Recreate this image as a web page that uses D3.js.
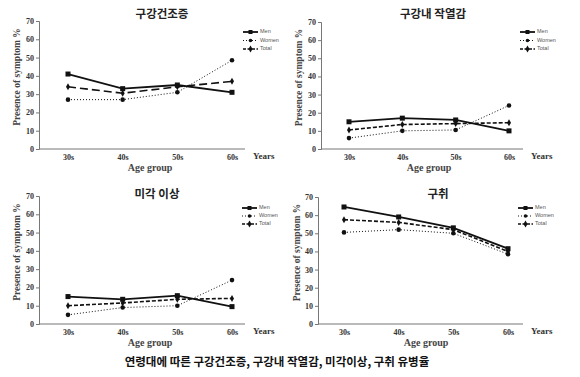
<!DOCTYPE html>
<html>
<head>
<meta charset="utf-8">
<script src="https://cdn.jsdelivr.net/npm/d3@7"></script>
<style>
  body { margin: 0; background: #fff; }
  svg { display: block; }
</style>
</head>
<body>
<svg width="580" height="377"></svg>
<script>
// Data
const ageGroups = ["30s", "40s", "50s", "60s"];
const yTicks = [0, 10, 20, 30, 40, 50, 60, 70];
const seriesNames = ["Men", "Women", "Total"];
const panelTitles = ["구강건조증", "구강내 작열감", "미각 이상", "구취"];

const dryMen = [41, 33, 35, 31];
const dryWomen = [27, 27, 31, 48.5];
const dryTotal = [34, 30.5, 34, 37];

const burnMen = [15, 17, 16, 10];
const burnWomen = [6, 10, 10.5, 24];
const burnTotal = [10.5, 13.5, 14, 14.5];

const tasteMen = [15, 13.5, 15.5, 9.5];
const tasteWomen = [5, 9, 10, 24];
const tasteTotal = [10, 11.5, 13.5, 14];

const breathMen = [64.5, 59, 53, 41.5];
const breathWomen = [50.5, 52, 50, 38.5];
const breathTotal = [57.5, 56, 52, 40];

const caption = "연령대에 따른 구강건조증, 구강내 작열감, 미각이상, 구취 유병율";

// Layout of each panel (pixels)
const panels = [
  { title: panelTitles[0], data: [dryMen, dryWomen, dryTotal],
    x0: 39, x1: 245, xa: 68, xb: 232, yTop: 21, yBot: 149, titleX: 162, titleY: 15,
    yLabX: 18, legX: 243, legY: [32, 40.5, 49], totalDash: "8,4" },
  { title: panelTitles[1], data: [burnMen, burnWomen, burnTotal],
    x0: 321, x1: 523, xa: 349, xb: 509, yTop: 22, yBot: 149, titleX: 433, titleY: 15,
    yLabX: 300, legX: 520, legY: [32, 40.5, 49], totalDash: "4,2" },
  { title: panelTitles[2], data: [tasteMen, tasteWomen, tasteTotal],
    x0: 39, x1: 245, xa: 68, xb: 232, yTop: 196, yBot: 324, titleX: 157, titleY: 195,
    yLabX: 18, legX: 242, legY: [208, 216, 224], totalDash: "4,2" },
  { title: panelTitles[3], data: [breathMen, breathWomen, breathTotal],
    x0: 318, x1: 523, xa: 344, xb: 508, yTop: 197, yBot: 324, titleX: 438, titleY: 195,
    yLabX: 298, legX: 518, legY: [208, 216, 224], totalDash: "4,2" }
];

const svg = d3.select("svg");
const serif = "'Liberation Serif', 'Times New Roman', serif";
const kor = "'Noto Sans CJK KR', sans-serif";

function lineStyle(sel, i, p) {
  if (i === 0) sel.attr("stroke-width", 1.8);
  else if (i === 1) sel.attr("stroke-width", 1).attr("stroke-dasharray", "1,2");
  else sel.attr("stroke-width", 1.6).attr("stroke-dasharray", p.totalDash);
}

function drawMarker(g, i, x, y) {
  if (i === 0) {
    g.append("rect").attr("x", x - 2.5).attr("y", y - 2.5)
      .attr("width", 5).attr("height", 5).attr("fill", "#111");
  } else if (i === 1) {
    g.append("circle").attr("cx", x).attr("cy", y).attr("r", 2.3).attr("fill", "#111");
  } else {
    g.append("path").attr("d", d3.symbol(d3.symbolDiamond, 14)())
      .attr("transform", `translate(${x},${y})`).attr("fill", "#111");
  }
}

panels.forEach(p => {
  const g = svg.append("g");

  const xScale = d3.scalePoint().domain(ageGroups).range([p.xa, p.xb]);
  const yScale = d3.scaleLinear().domain([0, 70]).range([p.yBot, p.yTop]);

  // Y axis
  const yAxis = d3.axisLeft(yScale).tickValues(yTicks).tickSize(3).tickPadding(2);
  const ya = g.append("g").attr("transform", `translate(${p.x0},0)`).call(yAxis);
  ya.select(".domain").attr("stroke", "#777");
  ya.selectAll(".tick line").attr("stroke", "#777");
  ya.selectAll("text").attr("font-family", serif).attr("font-weight", "bold")
    .attr("font-size", 8).attr("fill", "#333");

  // X axis
  g.append("line").attr("x1", p.x0).attr("x2", p.x1)
    .attr("y1", p.yBot).attr("y2", p.yBot).attr("stroke", "#777");
  const xAxis = d3.axisBottom(xScale).tickSize(0).tickPadding(5);
  const xa = g.append("g").attr("transform", `translate(0,${p.yBot})`).call(xAxis);
  xa.select(".domain").remove();
  xa.selectAll("text").attr("font-family", serif).attr("font-weight", "bold")
    .attr("font-size", 8).attr("fill", "#333");

  g.append("text").attr("x", p.x1 + 8).attr("y", p.yBot + 10)
    .attr("font-family", serif).attr("font-weight", "bold").attr("font-size", 9)
    .attr("fill", "#333").text("Years");

  g.append("text").attr("x", (p.xa + p.xb) / 2).attr("y", p.yBot + 22)
    .attr("text-anchor", "middle").attr("font-family", serif).attr("font-weight", "bold")
    .attr("font-size", 10).attr("fill", "#444").text("Age group");

  g.append("text")
    .attr("transform", `translate(${p.yLabX},${(p.yTop + p.yBot) / 2 - 8}) rotate(-90)`)
    .attr("text-anchor", "middle").attr("dominant-baseline", "middle")
    .attr("font-family", serif).attr("font-weight", "bold").attr("font-size", 9.5)
    .attr("fill", "#444").text("Presence of symptom %");

  // Title
  g.append("text").attr("x", p.titleX).attr("y", p.titleY)
    .attr("text-anchor", "middle").attr("dominant-baseline", "middle")
    .attr("font-family", kor).attr("font-weight", "bold").attr("font-size", 11.5)
    .attr("fill", "#222").text(p.title);

  // Series lines and markers
  const line = d3.line().x((d, j) => xScale(ageGroups[j])).y(d => yScale(d));
  p.data.forEach((vals, i) => {
    g.append("path").datum(vals).attr("d", line).attr("fill", "none")
      .attr("stroke", "#111").call(lineStyle, i, p);
    vals.forEach((v, j) => drawMarker(g, i, xScale(ageGroups[j]), yScale(v)));
  });

  // Legend
  seriesNames.forEach((name, i) => {
    const ly = p.legY[i];
    g.append("line").attr("x1", p.legX).attr("x2", p.legX + 15)
      .attr("y1", ly).attr("y2", ly).attr("stroke", "#111")
      .call(lineStyle, i, { totalDash: "3,1.5" });
    const lg = g.append("g");
    drawMarker(lg, i, p.legX + 7.5, ly);
    lg.selectAll("rect").attr("x", p.legX + 5.5).attr("y", ly - 2).attr("width", 4).attr("height", 4);
    lg.selectAll("circle").attr("r", 1.8);
    g.append("text").attr("x", p.legX + 17).attr("y", ly)
      .attr("dominant-baseline", "middle").attr("font-family", "'Liberation Sans', Arial, sans-serif")
      .attr("font-size", 5.5).attr("fill", "#555").text(name);
  });
});

// Caption
svg.append("text").attr("x", 277).attr("y", 363)
  .attr("text-anchor", "middle").attr("dominant-baseline", "middle")
  .attr("font-family", kor).attr("font-weight", "bold").attr("font-size", 11.5)
  .attr("fill", "#111").text(caption);
</script>
</body>
</html>
